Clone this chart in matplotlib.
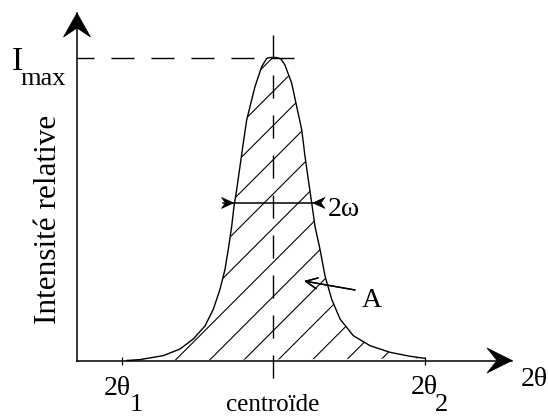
import numpy as np
import matplotlib
matplotlib.use("Agg")
from matplotlib import pyplot as plt
from matplotlib.patches import Polygon
import matplotlib.transforms as mtransforms

# Peak profile: offset from the centroid (2theta units) and relative intensity
offset = [-146.3, -133, -109.7, -93, -79.7, -68, -59.7, -53, -48, -44.7, -41.3, -39,
          -36.3, -33, -29.7, -26.3, -23, -18, -11.3, -6.3, -3, 0, 3.7, 8, 12, 18.7,
          23.7, 28.7, 32, 35.3, 38.7, 42, 47, 52, 58.7, 67, 80.3, 97, 117, 137, 152]
intensity = [0, 0.003, 0.016, 0.038, 0.071, 0.114, 0.169, 0.235, 0.301, 0.367, 0.443, 0.509,
             0.564, 0.641, 0.718, 0.794, 0.838, 0.904, 0.970, 0.997, 1.0, 1.0, 1.0, 0.995, 0.975, 0.915,
             0.838, 0.762, 0.674, 0.597, 0.520, 0.443, 0.367, 0.279, 0.202, 0.137, 0.082, 0.049, 0.027, 0.014, 0.007]

theta1 = -151   # 2theta_1
theta2 = 152    # 2theta_2
centroid = 0
i_max = 1.0
fwhm_left, fwhm_right, fwhm_level = -39.5, 40.0, 0.52

FONT = "Liberation Serif"
W, H = 548, 417
BASE = 360.5      # pixel row of the baseline
SCALE = 303.0     # pixels per unit of relative intensity

fig = plt.figure(figsize=(W / 100, H / 100), dpi=100)
# axes box: y axis at px 77, x axis arrow tip at px 512, top arrow tip at px 13
ax = fig.add_axes([77 / W, (H - BASE) / H, (512 - 77) / W, (BASE - 13) / H])
ax.set_xlim(77 - 273, 512 - 273)
ax.set_ylim(0, (BASE - 13) / SCALE)
for s in ["top", "right"]:
    ax.spines[s].set_visible(False)
for s in ["left", "bottom"]:
    ax.spines[s].set_linewidth(1.1)
ax.set_yticks([])
ax.set_xticks([theta1, theta2])
ax.set_xticklabels([])
ax.tick_params(axis="x", direction="inout", length=6, width=0.9)

# pixel coordinates (origin top-left) for annotations
px = mtransforms.Affine2D().scale(1 / W, -1 / H).translate(0, 1) + fig.transFigure

# peak curve and hatched area
ax.plot(offset, intensity, color="black", lw=1.0)
poly = Polygon(np.column_stack([offset, intensity]), closed=True, facecolor="none", edgecolor="none")
ax.add_patch(poly)
rise = 340.0
for x0 in -98 + 34.2 * np.arange(-12, 9):
    hl, = ax.plot([x0, x0 + rise], [0, rise / SCALE], color="black", lw=0.8)
    hl.set_clip_path(poly)

# dashed guide lines
dash = (0, (16.6, 12.2))
ax.plot([21, ax.get_xlim()[0]], [i_max, i_max], color="black", lw=1.0, linestyle=dash, clip_on=False)
ax.plot([centroid, centroid], [(BASE - 35) / SCALE, (BASE - 380) / SCALE], color="black", lw=1.0,
        linestyle=dash, clip_on=False)


def stealth(tip, d, length, half, notch):
    d = np.array(d, float)
    n = np.array([-d[1], d[0]])
    tip = np.array(tip, float)
    back = tip - length * d
    pts = [tip, back + half * n, tip - notch * d, back - half * n]
    fig.add_artist(Polygon(pts, closed=True, facecolor="black", edgecolor="black", lw=0.5, transform=px))


# axis arrow heads
stealth((77, 13), (0, -1), 24, 13.5, 15)
stealth((512, BASE), (1, 0), 25, 12.5, 15)

# FWHM marker
fy = BASE - fwhm_level * SCALE
ax.plot([fwhm_left - 11, fwhm_right], [fwhm_level, fwhm_level], color="black", lw=1.1)
stealth((273 + fwhm_left, fy), (1, 0), 12, 5.5, 8)
stealth((273 + fwhm_right, fy), (-1, 0), 12, 5.5, 8)

# area arrow
fig.add_artist(plt.annotate("", xy=(304, 281), xytext=(355, 290), xycoords=px, textcoords=px,
                            arrowprops=dict(arrowstyle="->,head_length=0.6,head_width=0.28",
                                            color="black", lw=1.0, mutation_scale=14,
                                            shrinkA=0, shrinkB=0)))

# labels
def label(x, y, s, size, **kw):
    fig.text(x, y, s, transform=px, fontsize=size, family=FONT, ha="left", va="baseline", **kw)


label(12, 70, "I", 24)
label(20, 85, "max", 19)
fig.text(49, 219, "Intensité relative", transform=px, fontsize=22.5, family=FONT,
         rotation=90, ha="center", va="center")
label(104, 395, "2θ", 20)
label(130, 411, "1", 19)
label(411, 394, "2θ", 20)
label(435, 411, "2", 19)
label(521, 386, "2θ", 20)
fig.text(273, 411, "centroïde", transform=px, fontsize=18, family=FONT, ha="center", va="baseline")
label(328, 216, "2ω", 20)
label(362, 307, "A", 20)

plt.savefig("out.png", dpi=100)
